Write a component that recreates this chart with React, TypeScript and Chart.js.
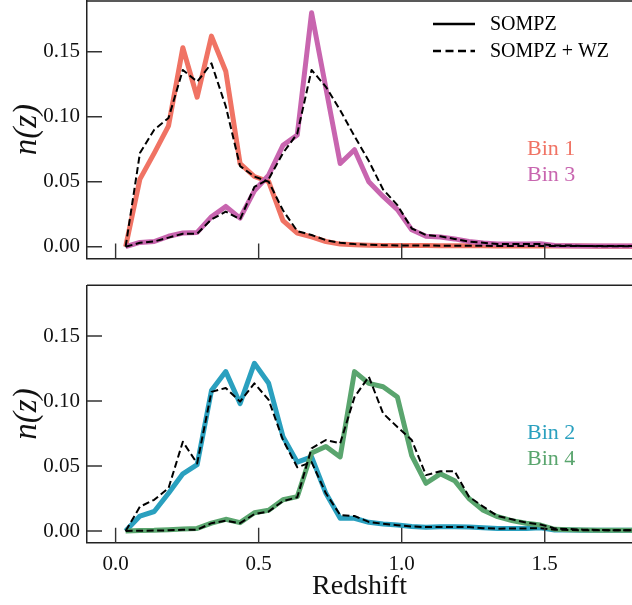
import React, { useEffect, useRef } from 'react';
import { Chart, registerables } from 'chart.js';
Chart.register(...registerables);

// ---------------- data ----------------
const zValues = [0.035, 0.085, 0.135, 0.185, 0.235, 0.285, 0.335, 0.385, 0.435, 0.485,
  0.535, 0.585, 0.635, 0.685, 0.735, 0.785, 0.835, 0.885, 0.935, 0.985,
  1.035, 1.085, 1.135, 1.185, 1.235, 1.285, 1.335, 1.385, 1.435, 1.485,
  1.535, 1.585, 1.635, 1.685, 1.735, 1.785, 1.835, 1.885];

const bin1Sompz = [0, 0.052, 0.072, 0.093, 0.153, 0.115, 0.162, 0.135, 0.064, 0.054,
  0.050, 0.020, 0.0105, 0.0075, 0.004, 0.002, 0.0015, 0.0012, 0.001, 0.001,
  0.001, 0.0009, 0.0008, 0.0008, 0.0007, 0.0007, 0.0006, 0.0006, 0.0006, 0.0005,
  0.0005, 0.0005, 0.0005, 0.0004, 0.0004, 0.0004, 0.0004, 0.0004];
const bin1Wz = [0, 0.072, 0.090, 0.099, 0.136, 0.127, 0.141, 0.108, 0.062, 0.054,
  0.050, 0.028, 0.012, 0.009, 0.005, 0.003, 0.002, 0.0015, 0.0012, 0.001,
  0.001, 0.0009, 0.0008, 0.0008, 0.0007, 0.0007, 0.0006, 0.0006, 0.0006, 0.0005,
  0.0005, 0.0005, 0.0005, 0.0004, 0.0004, 0.0004, 0.0004, 0.0004];
const bin3Sompz = [0, 0.0033, 0.004, 0.008, 0.0105, 0.011, 0.023, 0.031, 0.022, 0.043,
  0.055, 0.078, 0.086, 0.180, 0.122, 0.064, 0.0746, 0.050, 0.0387, 0.0285,
  0.013, 0.008, 0.0075, 0.006, 0.004, 0.0028, 0.002, 0.002, 0.002, 0.0023,
  0.001, 0.0007, 0.0006, 0.0005, 0.0005, 0.0005, 0.0005, 0.0005];
const bin3Wz = [0, 0.003, 0.004, 0.007, 0.010, 0.010, 0.021, 0.027, 0.021, 0.046,
  0.052, 0.072, 0.087, 0.136, 0.123, 0.105, 0.085, 0.066, 0.044, 0.032,
  0.014, 0.009, 0.008, 0.006, 0.004, 0.003, 0.002, 0.002, 0.002, 0.002,
  0.001, 0.001, 0.0006, 0.0005, 0.0005, 0.0005, 0.0005, 0.0005];
const bin2Sompz = [0, 0.0115, 0.015, 0.029, 0.044, 0.051, 0.108, 0.1226, 0.098, 0.129,
  0.1136, 0.0726, 0.053, 0.057, 0.029, 0.0098, 0.0098, 0.0067, 0.0054, 0.0046,
  0.0035, 0.0028, 0.0033, 0.0033, 0.003, 0.0025, 0.002, 0.002, 0.002, 0.0025,
  0.0008, 0.0008, 0.0006, 0.0005, 0.0005, 0.0005, 0.0005, 0.0005];
const bin2Wz = [0, 0.0187, 0.024, 0.033, 0.0687, 0.052, 0.107, 0.110, 0.0995, 0.1136,
  0.1008, 0.070, 0.049, 0.053, 0.029, 0.0123, 0.0115, 0.007, 0.0055, 0.0045,
  0.0035, 0.003, 0.003, 0.003, 0.003, 0.0022, 0.0018, 0.002, 0.002, 0.0022,
  0.001, 0.0008, 0.0006, 0.0005, 0.0005, 0.0005, 0.0005, 0.0005];
const bin4Sompz = [0, 0.0003, 0.0005, 0.001, 0.0015, 0.002, 0.006, 0.009, 0.0064, 0.014,
  0.016, 0.024, 0.0264, 0.060, 0.065, 0.057, 0.1226, 0.1136, 0.111, 0.103,
  0.058, 0.0367, 0.044, 0.0387, 0.025, 0.016, 0.011, 0.008, 0.006, 0.0046,
  0.0013, 0.001, 0.0007, 0.0005, 0.0005, 0.0005, 0.0005, 0.0005];
const bin4Wz = [0, 0.0002, 0.0003, 0.0005, 0.001, 0.001, 0.006, 0.008, 0.006, 0.013,
  0.015, 0.023, 0.026, 0.0636, 0.070, 0.0675, 0.103, 0.1187, 0.0905, 0.080,
  0.070, 0.043, 0.046, 0.046, 0.0264, 0.0187, 0.0115, 0.009, 0.0065, 0.005,
  0.002, 0.0015, 0.001, 0.0008, 0.0006, 0.0005, 0.0005, 0.0005];

const yTickValues = [0, 0.05, 0.1, 0.15];
const xTickValues = [0, 0.5, 1.0, 1.5];
const legendLabels = ['SOMPZ', 'SOMPZ + WZ'];
const topBinLabels = ['Bin 1', 'Bin 3'];
const bottomBinLabels = ['Bin 2', 'Bin 4'];

// ---------------- styles ----------------
const FONT = "'Liberation Serif', 'Times New Roman', serif";
const COLORS = { bin1: '#F07364', bin3: '#C865AF', bin2: '#2AA0BF', bin4: '#5AA56E' };
const SPINE = '#222222';
const W = 632;
const AXIS_W = 87;

function pts(ys: number[]) {
  return zValues.map((x, i) => ({ x, y: ys[i] }));
}

function solid(label: string, ys: number[], color: string) {
  return {
    label, data: pts(ys), borderColor: color, backgroundColor: color,
    borderWidth: 5, pointRadius: 0, tension: 0, borderJoinStyle: 'round', borderCapStyle: 'butt',
  };
}
function dashed(label: string, ys: number[]) {
  return {
    label, data: pts(ys), borderColor: '#000000', backgroundColor: '#000000',
    borderWidth: 2, borderDash: [7, 3.5], pointRadius: 0, tension: 0, borderJoinStyle: 'round',
  };
}

function decorPlugin(binLabels: string[], binColors: string[], withLegend: boolean) {
  return {
    id: 'decor',
    afterDraw(chart: any) {
      const { ctx, chartArea: a, scales } = chart;
      ctx.save();
      // top spine
      ctx.strokeStyle = SPINE;
      ctx.lineWidth = 1.5;
      ctx.beginPath();
      ctx.moveTo(a.left, a.top);
      ctx.lineTo(a.right, a.top);
      ctx.stroke();
      // inward ticks
      ctx.strokeStyle = '#333333';
      ctx.lineWidth = 1.4;
      ctx.beginPath();
      for (const v of yTickValues) {
        const y = scales.y.getPixelForValue(v);
        ctx.moveTo(a.left, y);
        ctx.lineTo(a.left + 15, y);
      }
      for (const v of xTickValues) {
        const x = scales.x.getPixelForValue(v);
        ctx.moveTo(x, a.bottom);
        ctx.lineTo(x, a.bottom - 15);
      }
      ctx.stroke();
      // bin labels
      ctx.font = `22px ${FONT}`;
      ctx.textBaseline = 'middle';
      ctx.textAlign = 'left';
      binLabels.forEach((t, i) => {
        ctx.fillStyle = binColors[i];
        ctx.fillText(t, a.left + 440, a.top + 148 + i * 26);
      });
      // legend
      if (withLegend) {
        ctx.strokeStyle = '#000000';
        ctx.lineWidth = 2.6;
        ctx.beginPath();
        ctx.moveTo(a.left + 346, a.top + 23);
        ctx.lineTo(a.left + 388, a.top + 23);
        ctx.stroke();
        ctx.setLineDash([8, 4.5]);
        ctx.beginPath();
        ctx.moveTo(a.left + 346, a.top + 50);
        ctx.lineTo(a.left + 388, a.top + 50);
        ctx.stroke();
        ctx.setLineDash([]);
        ctx.fillStyle = '#000000';
        ctx.font = `20px ${FONT}`;
        ctx.fillText(legendLabels[0], a.left + 403, a.top + 24);
        ctx.fillText(legendLabels[1], a.left + 403, a.top + 51);
      }
      ctx.restore();
    },
  };
}

function makeConfig(datasets: any[], bottom: boolean, binLabels: string[], binColors: string[], withLegend: boolean, canvasH: number, areaTop: number, areaBottom: number) {
  const xHeight = canvasH - areaBottom;
  return {
    type: 'line',
    data: { datasets },
    options: {
      animation: false,
      responsive: false,
      devicePixelRatio: 1,
      layout: { padding: { top: areaTop, left: 0, right: 0, bottom: 0 } },
      plugins: { legend: { display: false }, tooltip: { enabled: false } },
      scales: {
        x: {
          type: 'linear', min: -0.1, max: 1.805,
          grid: { display: false, drawTicks: false },
          border: { display: true, color: SPINE, width: 1.5 },
          afterBuildTicks: (s: any) => { s.ticks = xTickValues.map((v) => ({ value: v })); },
          afterFit: (s: any) => { s.height = xHeight; s.paddingLeft = 0; s.paddingRight = 0; s.paddingTop = 0; s.paddingBottom = 0; },
          ticks: {
            display: bottom, padding: 9, color: '#111111',
            font: { family: FONT, size: 21 },
            callback: (v: any) => Number(v).toFixed(1),
            maxRotation: 0, autoSkip: false,
          },
          title: {
            display: bottom, text: 'Redshift', color: '#111111',
            font: { family: FONT, size: 28 }, padding: { top: 0, bottom: 2 },
          },
        },
        y: {
          type: 'linear', min: -0.009, max: 0.189,
          grid: { display: false, drawTicks: false },
          border: { display: true, color: SPINE, width: 1.5 },
          afterBuildTicks: (s: any) => { s.ticks = yTickValues.map((v) => ({ value: v })); },
          afterFit: (s: any) => { s.width = AXIS_W; s.paddingTop = 0; s.paddingBottom = 0; s.paddingLeft = 0; s.paddingRight = 0; },
          ticks: {
            padding: 7, color: '#111111',
            font: { family: FONT, size: 21 },
            callback: (v: any) => Number(v).toFixed(2),
            autoSkip: false,
          },
          title: {
            display: true, text: 'n(z)', color: '#111111',
            font: { family: FONT, size: 33, style: 'italic' }, padding: { top: 8, bottom: 0 },
          },
        },
      },
    },
    plugins: [decorPlugin(binLabels, binColors, withLegend)],
  };
}

function Panel({ top, height, areaTop, areaBottom, datasets, bottom, binLabels, binColors, withLegend }: any) {
  const ref = useRef<HTMLCanvasElement | null>(null);
  useEffect(() => {
    if (!ref.current) return;
    const chart = new Chart(ref.current, makeConfig(datasets, bottom, binLabels, binColors, withLegend, height, areaTop, areaBottom) as any);
    return () => chart.destroy();
  }, []);
  return (
    <canvas ref={ref} width={W} height={height}
      style={{ position: 'absolute', left: 0, top, width: W, height, display: 'block' }} />
  );
}

export default function App() {
  useEffect(() => {
    document.body.style.margin = '0';
    document.body.style.overflow = 'hidden';
    document.body.style.background = '#ffffff';
  }, []);
  const topSets = [
    dashed('Bin 3 SOMPZ + WZ', bin3Wz),
    dashed('Bin 1 SOMPZ + WZ', bin1Wz),
    solid('Bin 3 SOMPZ', bin3Sompz, COLORS.bin3),
    solid('Bin 1 SOMPZ', bin1Sompz, COLORS.bin1),
  ];
  const bottomSets = [
    dashed('Bin 4 SOMPZ + WZ', bin4Wz),
    dashed('Bin 2 SOMPZ + WZ', bin2Wz),
    solid('Bin 4 SOMPZ', bin4Sompz, COLORS.bin4),
    solid('Bin 2 SOMPZ', bin2Sompz, COLORS.bin2),
  ];
  return (
    <div style={{ position: 'relative', width: 632, height: 605, overflow: 'hidden', background: '#fff' }}>
      <Panel top={0} height={262} areaTop={1} areaBottom={258.4} datasets={topSets} bottom={false}
        binLabels={topBinLabels} binColors={[COLORS.bin1, COLORS.bin3]} withLegend={true} />
      <Panel top={283} height={322} areaTop={2.3} areaBottom={259.7} datasets={bottomSets} bottom={true}
        binLabels={bottomBinLabels} binColors={[COLORS.bin2, COLORS.bin4]} withLegend={false} />
    </div>
  );
}
